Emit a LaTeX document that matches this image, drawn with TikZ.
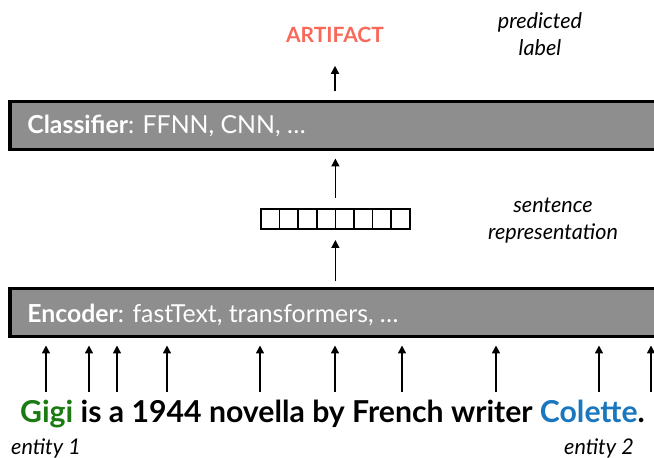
\documentclass[tikz,border=0pt]{standalone}
\usepackage{fontspec}
\setmainfont{Lato}
\usetikzlibrary{arrows.meta}
\usetikzlibrary{positioning}
\definecolor{bargray}{HTML}{8E8E8E}
\definecolor{artred}{HTML}{F8695A}
\definecolor{entgreen}{HTML}{1B7A12}
\definecolor{entblue}{HTML}{1A77BD}

\begin{document}
\begin{tikzpicture}[x=0.5pt,y=-0.5pt,
        bar/.style={draw=black,line width=1.6pt,fill=bargray,minimum width=330pt,minimum height=24pt,inner sep=0pt,outer sep=0pt,anchor=north west},
        bartext/.style={text=white,font=\fontsize{12.4}{14}\selectfont,inner sep=0pt,anchor=west},
        arr/.style={line width=0.8pt,-{Triangle[length=4pt,width=4pt]}},
        note/.style={font=\itshape\fontsize{10.8}{13.5}\selectfont,align=center},
        cell/.style={draw,line width=0.8pt,minimum width=9.3pt,minimum height=10pt,inner sep=0pt,outer sep=0pt}]
        %   \draw [help lines] (0,0) grid (654,458);
        \useasboundingbox (0,0) rectangle (654,458);
        \clip (0,0) rectangle (654,458);

        % classifier and predicted label
        \node [bar] (cls) at (10,101.5) {};
        \node [bartext] (clstext) at ([xshift=8.5pt]cls.west) {\textbf{Classifier}: FFNN, CNN, …};
        \node [font=\bfseries\fontsize{10.5}{12}\selectfont,text=artred] (label) at (335,35) {ARTIFACT};
        \node [note] (predicted) at (540,34.5) {predicted\\label};
        \draw [arr,shorten >=8pt] ([yshift=5pt]cls.north -| label.south) -- (label.south);

        % sentence representation
        \foreach \i in {1,...,8}
        {
            \node [cell] (c\i) at (261+18.6*\i-9.3,219) {};
        }
        \node [note] (sentrep) at (553,220.5) {sentence\\representation};
        \draw [arr,shorten >=4.5pt] ([yshift=5.5pt]c4.north east) -- (c4.north east |- cls.south);

        % encoder
        \node [bar] (enc) at (10,288.5) {};
        \node [bartext] (enctext) at ([xshift=8.5pt,yshift=-1pt]enc.west) {\textbf{Encoder}: fastText, transformers, …};
        \draw [arr,shorten >=5.5pt] ([yshift=3.5pt]enc.north -| c4.south east) -- (c4.south east);

        % input words
        \foreach \x [count=\i] in {46,89,117,167,260,335,402,496,599,651}
        {
            \coordinate (w\i) at (\x,392);
            \draw [arr,shorten >=4.5pt] (w\i) -- (w\i |- enc.south);
        }
        \node [font=\bfseries\fontsize{15.1}{17}\selectfont] (sentence) at (332.5,414)
        {\textcolor{entgreen}{Gigi} is a 1944 novella by French writer \textcolor{entblue}{Colette}.};
        \node [note] (ent1) at (w1 |- 0,448) {entity 1};
        \node [note] (ent2) at (w9 |- 0,448) {entity 2};
\end{tikzpicture}
\end{document}
